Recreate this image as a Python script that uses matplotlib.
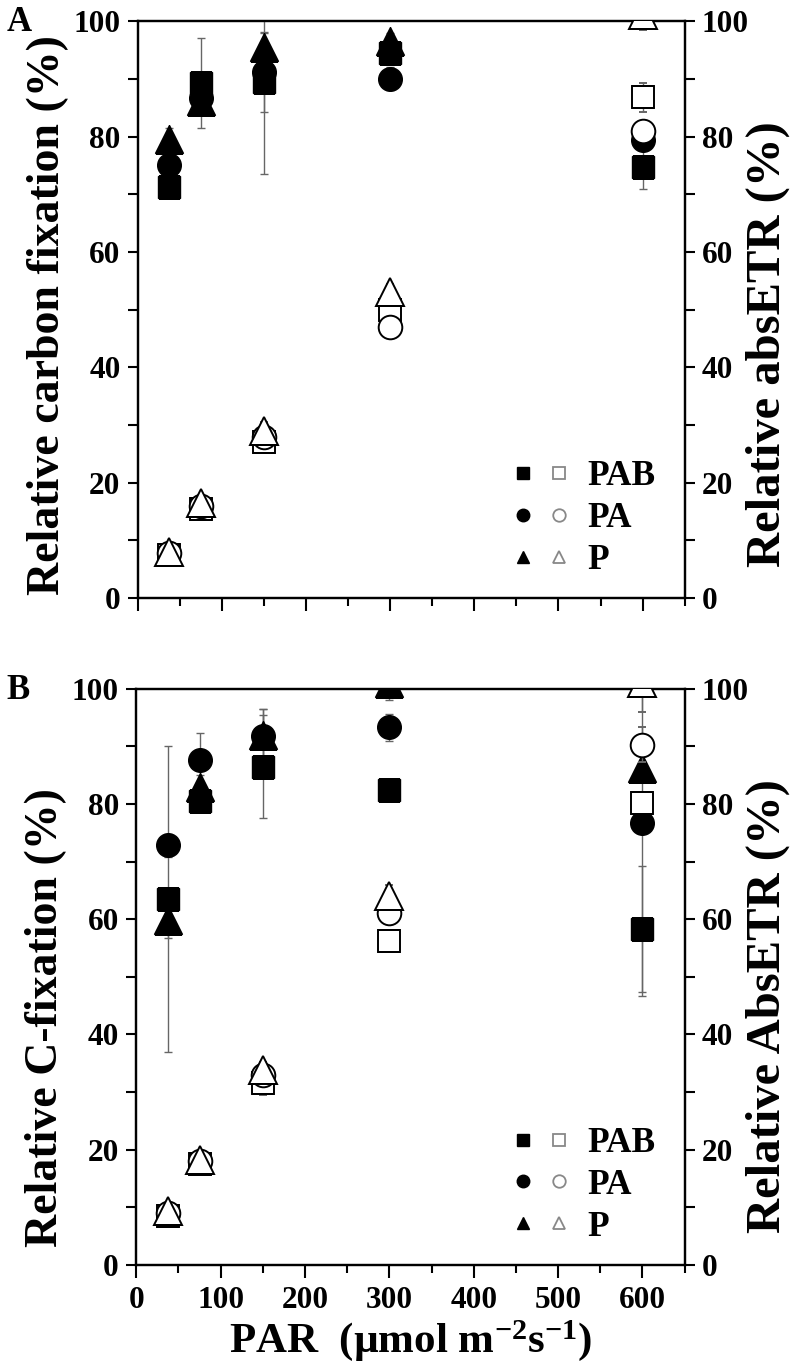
import matplotlib
matplotlib.use('Agg')
import matplotlib.pyplot as plt
from matplotlib.lines import Line2D
from matplotlib.path import Path
from matplotlib.legend_handler import HandlerTuple
from matplotlib.ticker import MultipleLocator

plt.rcParams['font.family'] = ['Liberation Serif', 'DejaVu Serif']
plt.rcParams['font.weight'] = 'bold'
plt.rcParams['mathtext.default'] = 'regular'

# === Data ===
par = [37.5, 75, 150, 300, 600]
groups = ['PAB', 'PA', 'P']
nan = float('nan')

# panel A: relative carbon fixation (filled) and relative absETR (open)
cfix_A_PAB = [71.3, 89.2, 89.5, 94.5, 74.7]
cfix_A_PAB_err = [1.5, 7.8, 16.0, 1.5, 3.8]
cfix_A_PA = [75.0, 86.6, 91.2, 90.0, 79.4]
cfix_A_PA_err = [2.0, 1.5, 7.0, 2.0, 1.5]
cfix_A_P = [79.5, 86.2, 95.5, 96.5, nan]
cfix_A_P_err = [2.0, 1.5, 2.5, 1.5, nan]

etr_A_PAB = [7.5, 15.5, 27.0, 50.0, 86.8]
etr_A_PAB_err = [0.8, 0.8, 1.0, 1.0, 2.5]
etr_A_PA = [7.8, 16.0, 28.0, 47.0, 81.0]
etr_A_PA_err = [0.8, 0.8, 1.0, 1.5, 1.0]
etr_A_P = [8.0, 16.5, 29.0, 53.0, 101.0]
etr_A_P_err = [0.5, 0.5, 1.5, 1.5, 2.5]

# panel B: relative C-fixation (filled) and relative AbsETR (open)
cfix_B_PAB = [63.5, 80.5, 86.5, 82.5, 58.3]
cfix_B_PAB_err = [26.5, 1.0, 9.0, 1.0, 11.0]
cfix_B_PA = [72.8, 87.7, 91.8, 93.3, 76.7]
cfix_B_PA_err = [2.0, 4.6, 4.6, 2.3, 30.0]
cfix_B_P = [59.8, 83.0, 92.0, 101.0, 86.3]
cfix_B_P_err = [3.0, 2.0, 4.5, 3.0, 2.0]

etr_B_PAB = [8.5, 17.5, 31.5, 56.2, 80.2]
etr_B_PAB_err = [1.0, 1.0, 2.0, 1.0, 1.0]
etr_B_PA = [9.0, 18.0, 33.0, 61.0, 90.3]
etr_B_PA_err = [0.8, 0.8, 1.0, 1.0, 3.0]
etr_B_P = [9.3, 18.3, 33.8, 64.0, 101.0]
etr_B_P_err = [0.8, 0.8, 1.5, 2.0, 5.0]

markers = {'PAB': 's', 'PA': 'o', 'P': '^'}
msizes = {'PAB': 16, 'PA': 17, 'P': 20}

panels = [
    dict(tag='A', left_label='Relative carbon fixation (%)', right_label='Relative absETR (%)',
         left_y=0.49, right_y=0.44,
         filled=[cfix_A_PAB, cfix_A_PA, cfix_A_P], filled_err=[cfix_A_PAB_err, cfix_A_PA_err, cfix_A_P_err],
         open=[etr_A_PAB, etr_A_PA, etr_A_P], open_err=[etr_A_PAB_err, etr_A_PA_err, etr_A_P_err]),
    dict(tag='B', left_label='Relative C-fixation (%)', right_label='Relative AbsETR (%)',
         left_y=0.43, right_y=0.45,
         filled=[cfix_B_PAB, cfix_B_PA, cfix_B_P], filled_err=[cfix_B_PAB_err, cfix_B_PA_err, cfix_B_P_err],
         open=[etr_B_PAB, etr_B_PA, etr_B_P], open_err=[etr_B_PAB_err, etr_B_PA_err, etr_B_P_err]),
]

fig = plt.figure(figsize=(7.97, 13.72), dpi=100)
axes_pos = [[0.173, 0.564, 0.686, 0.4206], [0.171, 0.078, 0.688, 0.420]]
err_color = '#666666'
# plain path (not a Rectangle) so that markers get cut at the frame
frame_path = Path([(0, 0), (1, 0), (1, 1), (0, 1), (0, 0)], closed=True)


def style_axis(a):
    for sp in a.spines.values():
        sp.set_linewidth(1.6)
    a.set_ylim(0, 100)
    a.yaxis.set_major_locator(MultipleLocator(20))
    a.yaxis.set_minor_locator(MultipleLocator(10))
    a.tick_params(axis='y', which='major', direction='out', length=7.5, width=1.5, labelsize=22.5, pad=5)
    a.tick_params(axis='y', which='minor', direction='out', length=7, width=1.5)


for i, p in enumerate(panels):
    ax = fig.add_axes(axes_pos[i])
    ax2 = ax.twinx()
    style_axis(ax)
    style_axis(ax2)
    ax.set_xlim(0, 650)
    ax.xaxis.set_major_locator(MultipleLocator(100))
    ax.xaxis.set_minor_locator(MultipleLocator(50))
    ax.tick_params(axis='x', which='major', direction='out', length=9, width=1.5, labelsize=22.5, pad=6)
    ax.tick_params(axis='x', which='minor', direction='out', length=6, width=1.5)
    if i == 0:
        ax.tick_params(axis='x', labelbottom=False)
    else:
        ax.set_xlabel(r'PAR  (µmol m$^{-2}$s$^{-1}$)', fontsize=31, fontweight='bold', labelpad=2)

    for g, y, e in zip(groups, p['filled'], p['filled_err']):
        eb = ax.errorbar(par, y, yerr=e, fmt=markers[g], ms=msizes[g], mfc='black', mec='black',
                         ecolor=err_color, elinewidth=1, capsize=3, capthick=1, zorder=3)
        eb[0].set_clip_path(frame_path, ax.transAxes)
    for g, y, e in zip(groups, p['open'], p['open_err']):
        eb = ax2.errorbar(par, y, yerr=e, fmt=markers[g], ms=msizes[g], mfc='white', mec='black', mew=1.4,
                          ecolor=err_color, elinewidth=1, capsize=3, capthick=1, zorder=3)
        eb[0].set_clip_path(frame_path, ax2.transAxes)

    ax.set_ylabel(p['left_label'], fontsize=33, fontweight='bold', va='center')
    ax.yaxis.set_label_coords(-0.165, p['left_y'])
    ax2.set_ylabel(p['right_label'], fontsize=35, fontweight='bold', va='center')
    ax2.yaxis.set_label_coords(1.152, p['right_y'])

    handles = []
    for g in groups:
        h_fill = Line2D([], [], ls='none', marker=markers[g], ms=9, mfc='black', mec='black')
        h_open = Line2D([], [], ls='none', marker=markers[g], ms=9, mfc='white', mec='#888888', mew=1.3)
        handles.append((h_fill, h_open))
    ax2.legend(handles, groups, handler_map={tuple: HandlerTuple(ndivide=None, pad=0.5)},
               loc='lower right', bbox_to_anchor=(0.985, 0.0), frameon=False, fontsize=25.5,
               handlelength=1.5, handletextpad=0.55, labelspacing=0.25, borderaxespad=0.2)

    fig.text(0.008, axes_pos[i][1] + axes_pos[i][3] - 0.001, p['tag'], fontsize=25,
             fontweight='bold', va='center', ha='left')

fig.savefig('out.png', dpi=100)
